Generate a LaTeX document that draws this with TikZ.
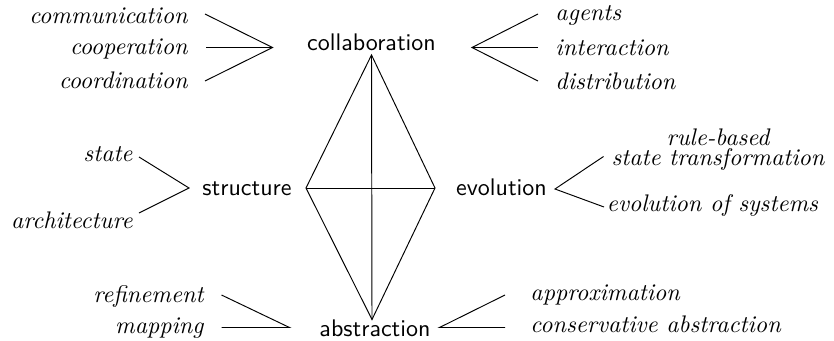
\documentclass[tikz,border=0pt]{standalone}
\begin{document}
\begin{tikzpicture}[x=0.4167pt,y=-0.4167pt,
  main/.style={font=\sffamily,inner sep=0pt,anchor=base},
  leaf/.style={font=\itshape,inner sep=0pt},
  leafL/.style={leaf,anchor=base east},
  leafR/.style={leaf,anchor=base west},
  conn/.style={line width=0.4pt}]
\useasboundingbox (0,0) rectangle (834,340);
% main terms
\node[main] (collab) at (371.5,50) {collaboration};
\node[main] (struct) at (247,195) {structure};
\node[main] (evol) at (501.5,195) {evolution};
\node[main] (abstr) at (375,336) {abstraction};
% diamond vertices
\coordinate (dT) at (371.5,55);
\coordinate (dL) at (306,188);
\coordinate (dR) at (435,188);
\coordinate (dB) at (372,319.5);
\draw[conn] (dT) -- (dL) -- (dB) -- (dR) -- cycle;
\draw[conn] (dT) -- (dB);
\draw[conn] (dL) -- (dR);
% collaboration left
\node[leafL] (comm) at (188,23) {communication};
\node[leafL] (coop) at (188,54) {cooperation};
\node[leafL] (coord) at (188,88) {coordination};
\coordinate (cl) at (272.5,47.5);
\coordinate (comm-e) at (205,14);
\coordinate (coop-e) at (206,47.5);
\coordinate (coord-e) at (205,81);
\draw[conn] (comm-e) -- (cl) -- (coord-e);
\draw[conn] (coop-e) -- (cl);
% collaboration right
\node[leafR] (agents) at (555,20.5) {agents};
\node[leafR] (inter) at (555,55) {interaction};
\node[leafR] (distr) at (555,89) {distribution};
\coordinate (cr) at (472,47.5);
\coordinate (agents-w) at (538,14);
\coordinate (inter-w) at (538,47.5);
\coordinate (distr-w) at (538,81);
\draw[conn] (agents-w) -- (cr) -- (distr-w);
\draw[conn] (inter-w) -- (cr);
% structure left
\node[leafL] (state) at (133,161.5) {state};
\node[leafL] (arch) at (133,228) {architecture};
\coordinate (sl) at (189,188);
\coordinate (state-e) at (139,157);
\coordinate (arch-e) at (139,213);
\draw[conn] (state-e) -- (sl) -- (arch-e);
% evolution right
\node[leaf,align=center,anchor=base] (rule) at (718,165) {rule-based\\[-3.7pt]state transformation};
\node[leafR] (evsys) at (606.5,211.5) {evolution of systems};
\coordinate (er) at (555,189);
\coordinate (rule-w) at (603.5,156.5);
\coordinate (evsys-w) at (604,207);
\draw[conn] (rule-w) -- (er) -- (evsys-w);
% abstraction left
\node[leafL] (refin) at (204,302.5) {refinement};
\node[leafL] (mapp) at (204,333.5) {mapping};
\coordinate (al) at (289.5,327.5);
\coordinate (refin-e) at (221.5,295);
\coordinate (mapp-e) at (221.5,327.5);
\draw[conn] (refin-e) -- (al) -- (mapp-e);
% abstraction right
\node[leafR] (approx) at (530,300) {approximation};
\node[leafR] (cons) at (530,332) {conservative abstraction};
\coordinate (ar) at (439.5,327.5);
\coordinate (approx-w) at (505,295);
\coordinate (cons-w) at (505,327.5);
\draw[conn] (approx-w) -- (ar) -- (cons-w);
\end{tikzpicture}
\end{document}
